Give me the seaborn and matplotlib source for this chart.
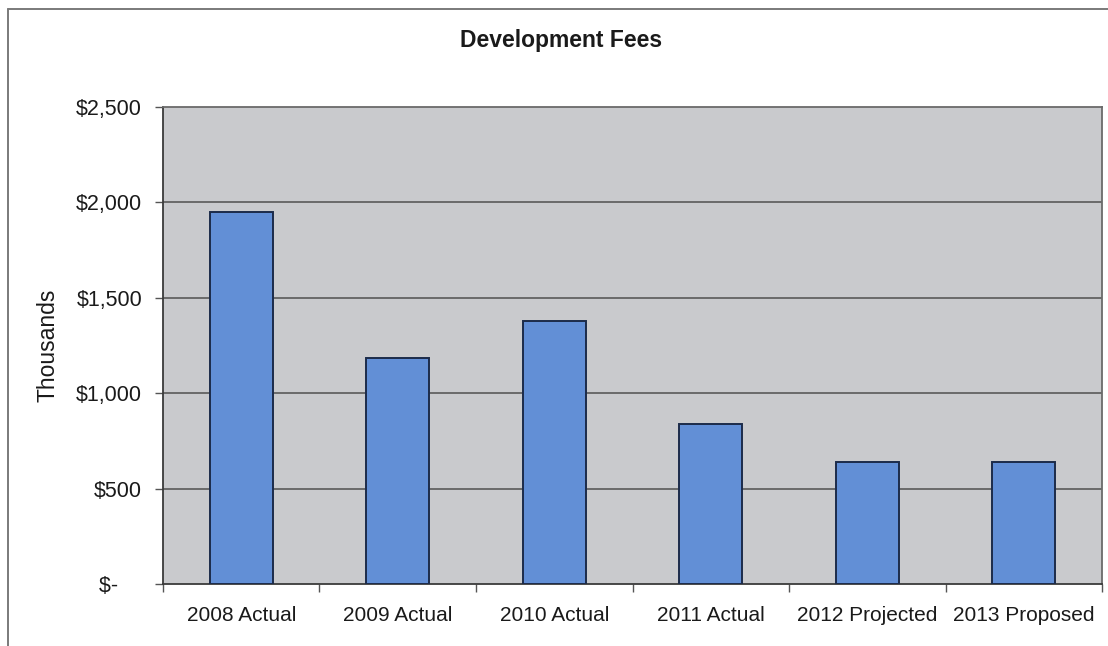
import matplotlib
matplotlib.use("Agg")
import matplotlib.pyplot as plt
from matplotlib.lines import Line2D
from matplotlib.ticker import FixedLocator, FuncFormatter
import seaborn as sns

# Development fee revenue, in thousands of dollars
categories = ["2008 Actual", "2009 Actual", "2010 Actual",
              "2011 Actual", "2012 Projected", "2013 Proposed"]
fees = [1950, 1185, 1378, 837, 640, 640]
y_ticks = [0, 500, 1000, 1500, 2000, 2500]

sns.set_theme(style="white")
plt.rcParams["font.family"] = ["Liberation Sans", "DejaVu Sans"]

fig = plt.figure(figsize=(11.08, 6.46), dpi=100)
fig.patch.set_facecolor("white")
ax = fig.add_axes([0.1471, 0.096, 0.9946 - 0.1471, 0.8344 - 0.096])
ax.set_facecolor("#c9cacd")

sns.barplot(x=categories, y=fees, color="#628fd6", width=0.4,
            edgecolor="#1c2b4a", linewidth=1.4, saturation=1, ax=ax, zorder=3)

ax.set_ylim(0, 2500)
ax.set_xlim(-0.5, len(categories) - 0.5)
ax.yaxis.set_major_locator(FixedLocator(y_ticks))
# accounting-style labels: zero shown as a dash, offset from the digits
ax.yaxis.set_major_formatter(FuncFormatter(
    lambda v, _: "$-    " if v == 0 else f"${v:,.0f}"))

# horizontal gridlines
for v in y_ticks[1:-1]:
    ax.axhline(v, color="#6a6a6a", linewidth=1.4, zorder=1)

# spines: dark axes on left/bottom, grey frame elsewhere
for side in ["left", "bottom"]:
    ax.spines[side].set_color("#3a3a3a")
    ax.spines[side].set_linewidth(1.3)
for side in ["top", "right"]:
    ax.spines[side].set_color("#6a6a6a")
    ax.spines[side].set_linewidth(1.3)

ax.tick_params(axis="y", which="major", direction="out", length=6, width=1,
               color="#555555", pad=9, labelsize=15.5, labelcolor="#1a1a1a",
               left=True)
ax.tick_params(axis="x", which="major", length=0, pad=16, labelsize=15,
               labelcolor="#1a1a1a")
ax.set_xticks(range(len(categories)))
ax.set_xticklabels(categories)
# category separators on the x axis
ax.xaxis.set_minor_locator(FixedLocator([i - 0.5 for i in range(len(categories) + 1)]))
ax.tick_params(axis="x", which="minor", direction="out", length=6, width=1,
               color="#555555", bottom=True)

ax.set_xlabel("")
ax.set_ylabel("Thousands", fontsize=16.5, color="#1a1a1a", labelpad=12)

fig.text(0.506, 1 - 40 / 646, "Development Fees", ha="center", va="center",
         fontsize=16.5, fontweight="bold", color="#1a1a1a")

# outer chart frame (left and top edges)
fig.add_artist(Line2D([8 / 1108, 8 / 1108], [0, 1 - 9 / 646],
                      transform=fig.transFigure, color="#7a7a7a", linewidth=1.4))
fig.add_artist(Line2D([8 / 1108, 1], [1 - 9 / 646, 1 - 9 / 646],
                      transform=fig.transFigure, color="#7a7a7a", linewidth=1.4))

fig.savefig("out.png", dpi=100, facecolor="white")
